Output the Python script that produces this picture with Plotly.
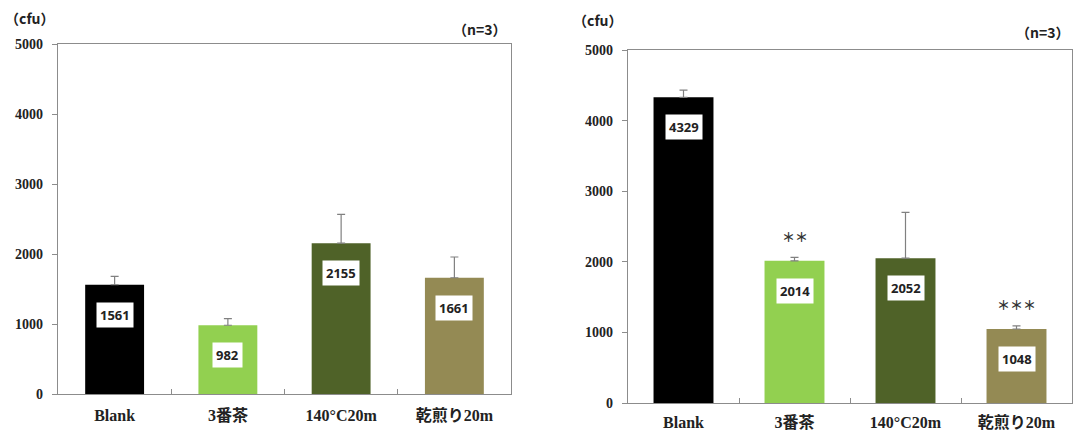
import plotly.graph_objects as go

# Colony counts (cfu), n=3
categories = ["Blank", "3番茶", "140°C20m", "乾煎り20m"]
left_values = [1561, 982, 2155, 1661]
left_errors = [120, 94, 412, 296]
right_values = [4329, 2014, 2052, 1048]
right_errors = [104, 50, 649, 45]
right_marks = ["", "＊＊", "", "＊＊＊"]
y_ticks = [0, 1000, 2000, 3000, 4000, 5000]

bar_colors = ["#000000", "#92D050", "#4F6228", "#948A54"]

W, H = 1073, 434


def xdom(a, b):
    return [a / W, b / W]


def ydom(bottom_px, top_px):
    return [(H - bottom_px) / H, (H - top_px) / H]


fig = go.Figure()

fig.add_trace(go.Bar(
    x=categories, y=left_values, width=0.52,
    marker=dict(color=bar_colors, line=dict(width=0)),
    error_y=dict(type="data", array=left_errors, symmetric=False,
                 arrayminus=[0] * 4, color="#808080", thickness=1.2, width=4),
    xaxis="x", yaxis="y", showlegend=False, hoverinfo="skip",
))
fig.add_trace(go.Bar(
    x=categories, y=right_values, width=0.54,
    marker=dict(color=bar_colors, line=dict(width=0)),
    error_y=dict(type="data", array=right_errors, symmetric=False,
                 arrayminus=[0] * 4, color="#808080", thickness=1.2, width=4),
    xaxis="x2", yaxis="y2", showlegend=False, hoverinfo="skip",
))

tick_font = dict(family="Liberation Serif, Noto Sans CJK JP", size=14,
                 color="#222", weight="bold")
cat_font = dict(family="Liberation Serif, Noto Sans CJK JP", size=16,
                color="#222", weight="bold")

common_x = dict(type="category", showline=True, linecolor="#8c8c8c", linewidth=1.2,
                mirror=True, ticks="inside", tickson="boundaries", ticklen=5,
                tickcolor="#8c8c8c", showgrid=False, zeroline=False,
                tickfont=cat_font, fixedrange=True, automargin=False)
common_y = dict(range=[0, 5000], tickvals=y_ticks,
                ticktext=[str(v) for v in y_ticks],
                showline=True, linecolor="#8c8c8c", linewidth=1.2, mirror=True,
                ticks="outside", ticklen=5, tickcolor="#8c8c8c",
                showgrid=False, zeroline=False, tickfont=tick_font,
                fixedrange=True, automargin=False, ticklabelstandoff=6)

fig.update_layout(
    width=W, height=H,
    margin=dict(l=0, r=0, t=0, b=0),
    paper_bgcolor="white", plot_bgcolor="white",
    bargap=0.48,
    xaxis=dict(domain=xdom(58, 511), anchor="y", ticklabelstandoff=7, **common_x),
    yaxis=dict(domain=ydom(394, 44), anchor="x", **common_y),
    xaxis2=dict(domain=xdom(628, 1072), anchor="y2", ticklabelstandoff=5, **common_x),
    yaxis2=dict(domain=ydom(403, 50), anchor="x2", **common_y),
)

label_font = dict(family="Open Sans, Liberation Sans", size=13, color="#222")
head_font = dict(family="Noto Sans CJK JP", size=14, color="#222", weight="bold")

annotations = []
# value labels inside the top of each bar
for xa, ya, vals in (("x", "y", left_values), ("x2", "y2", right_values)):
    for c, v in zip(categories, vals):
        annotations.append(dict(
            x=c, y=v, xref=xa, yref=ya, text=f"<b>{v}</b>", showarrow=False,
            yanchor="top", yshift=-17, bgcolor="white", borderpad=3,
            font=label_font,
        ))

# significance marks above the error bars
for c, v, e, m in zip(categories, right_values, right_errors, right_marks):
    if m:
        annotations.append(dict(
            x=c, y=v + e, xref="x2", yref="y2", text=m, showarrow=False,
            yanchor="middle", yshift=21,
            font=dict(family="Noto Sans CJK JP", size=13, color="#333",
                      weight="bold"),
        ))

# unit and sample-size headers
annotations += [
    dict(x=30 / W, y=(H - 18) / H, xref="paper", yref="paper", text="（cfu）",
         showarrow=False, xanchor="center", yanchor="middle", font=head_font),
    dict(x=480 / W, y=(H - 29) / H, xref="paper", yref="paper", text="（n=3）",
         showarrow=False, xanchor="center", yanchor="middle", font=head_font),
    dict(x=598 / W, y=(H - 20) / H, xref="paper", yref="paper", text="（cfu）",
         showarrow=False, xanchor="center", yanchor="middle", font=head_font),
    dict(x=1043 / W, y=(H - 32) / H, xref="paper", yref="paper", text="（n=3）",
         showarrow=False, xanchor="center", yanchor="middle", font=head_font),
]

fig.update_layout(annotations=annotations)

fig.write_html("out.html")
